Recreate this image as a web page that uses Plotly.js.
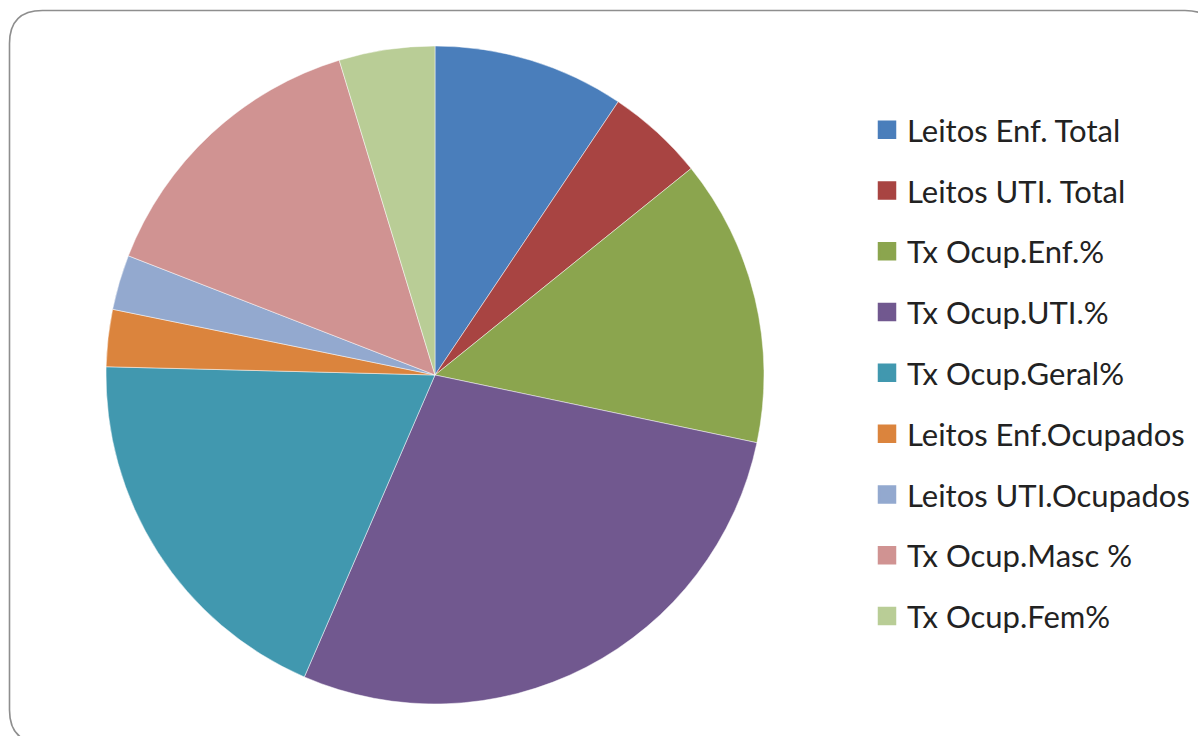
<!DOCTYPE html>
<html>
<head>
<meta charset="utf-8">
<script src="https://cdn.plot.ly/plotly-3.0.1.min.js"></script>
<style>
html,body{margin:0;padding:0;background:#fff;}
#chart{width:1198px;height:736px;}
</style>
</head>
<body>
<div id="chart"></div>
<script>
const labels = ["Leitos Enf. Total","Leitos UTI. Total","Tx Ocup.Enf.%","Tx Ocup.UTI.%","Tx Ocup.Geral%","Leitos Enf.Ocupados","Leitos UTI.Ocupados","Tx Ocup.Masc %","Tx Ocup.Fem%"];
const values = [9.4, 4.8, 14.1, 28.2, 18.9, 2.8, 2.7, 14.4, 4.7];
const colors = ["#4A7EBB","#A84442","#8BA54E","#71588F","#4198AF","#DB843D","#93A9CF","#D09392","#B9CD96"];

const W = 1198, H = 736;
const px = x => x / W;
const py = y => 1 - y / H;

const traces = [{
  type: 'pie',
  labels: labels,
  values: values,
  sort: false,
  direction: 'clockwise',
  rotation: 0,
  textinfo: 'none',
  hoverinfo: 'label+value',
  showlegend: false,
  marker: {colors: colors, line: {color: 'rgba(255,255,255,0.6)', width: 0.8}},
  domain: {x: [px(106), px(764)], y: [py(704), py(46)]}
}];
labels.forEach((lab, i) => {
  traces.push({
    type: 'scatter', mode: 'markers', x: [null], y: [null],
    name: lab, legendgroup: 'g' + i, showlegend: true, hoverinfo: 'skip',
    marker: {symbol: 'square', size: 16, color: colors[i], line: {width: 2.5, color: colors[i]}}
  });
});

// rounded frame
const L = 9.5, T = 10.5, R = 1218, B = 743, r = 33;
const path = `M ${px(L+r)},${py(T)} L ${px(R-r)},${py(T)} Q ${px(R)},${py(T)} ${px(R)},${py(T+r)} ` +
  `L ${px(R)},${py(B-r)} Q ${px(R)},${py(B)} ${px(R-r)},${py(B)} L ${px(L+r)},${py(B)} ` +
  `Q ${px(L)},${py(B)} ${px(L)},${py(B-r)} L ${px(L)},${py(T+r)} Q ${px(L)},${py(T)} ${px(L+r)},${py(T)} Z`;

const layout = {
  width: W, height: H,
  margin: {l: 0, r: 0, t: 0, b: 0},
  paper_bgcolor: '#fff', plot_bgcolor: 'rgba(0,0,0,0)',
  xaxis: {visible: false}, yaxis: {visible: false},
  showlegend: true,
  legend: {
    x: px(867), xanchor: 'left', y: py(103), yanchor: 'top',
    font: {family: 'Lato, "Liberation Sans", sans-serif', size: 31, color: '#222'},
    tracegroupgap: 17.5, bgcolor: 'rgba(0,0,0,0)', borderwidth: 0
  },
  shapes: [{type: 'path', xref: 'paper', yref: 'paper', path: path,
    line: {color: '#8e8e8e', width: 1.6}, fillcolor: 'rgba(0,0,0,0)', layer: 'below'}]
};

Plotly.newPlot('chart', traces, layout, {staticPlot: true});
</script>
</body>
</html>
